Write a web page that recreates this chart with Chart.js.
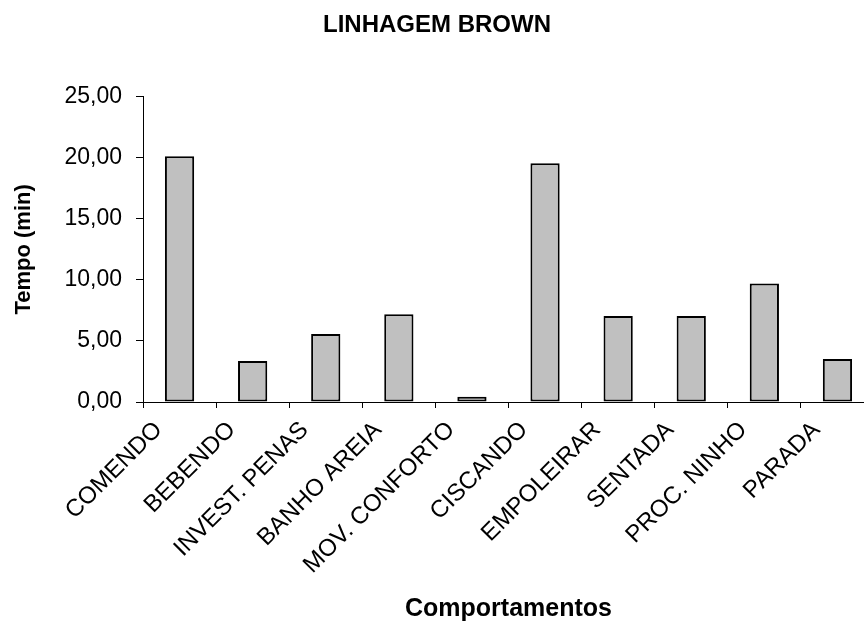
<!DOCTYPE html>
<html>
<head>
<meta charset="utf-8">
<title>Linhagem Brown</title>
<script src="https://cdn.jsdelivr.net/npm/chart.js@4/dist/chart.umd.min.js"></script>
<style>
  html,
  body {
    margin: 0;
    padding: 0;
    background: #fff;
    overflow: hidden;
  }
  .chart-box {
    width: 864px;
    height: 621px;
    overflow: hidden;
  }
</style>
</head>
<body>
<div class="chart-box">
  <canvas id="bar-chart" width="882" height="621"></canvas>
</div>
<script>
// CHART DATA
const comportamentos = [
  "COMENDO",
  "BEBENDO",
  "INVEST. PENAS",
  "BANHO AREIA",
  "MOV. CONFORTO",
  "CISCANDO",
  "EMPOLEIRAR",
  "SENTADA",
  "PROC. NINHO",
  "PARADA",
]
const tempo_min = [20.14, 3.36, 5.57, 7.19, 0.43, 19.56, 7.05, 7.05, 9.7, 3.52]

const y_min = 0
const y_max = 25
const y_step = 5

const FONT = "Arial, 'Liberation Sans', sans-serif"

const ctx = document.getElementById("bar-chart").getContext("2d")

// tick labels use a comma as decimal mark
function formatTick(value) {
  return value.toFixed(2).replace(".", ",")
}

new Chart(ctx, {
  type: "bar",
  data: {
    labels: comportamentos,
    datasets: [
      {
        label: "Tempo (min)",
        data: tempo_min,
        backgroundColor: "#C0C0C0",
        borderColor: "#000",
        borderWidth: 2,
        borderSkipped: false,
        barPercentage: 0.4,
        categoryPercentage: 1,
      },
    ],
  },
  options: {
    responsive: false,
    animation: false,
    devicePixelRatio: 1,
    layout: {
      padding: { left: 0, right: 8, top: 0, bottom: 0 },
    },
    plugins: {
      legend: { display: false },
      tooltip: { enabled: false },
      title: {
        display: true,
        text: "LINHAGEM BROWN",
        color: "#000",
        font: { family: FONT, size: 24, weight: "bold" },
        padding: { top: 11, bottom: 57 },
      },
    },
    scales: {
      x: {
        offset: true,
        border: { display: true, color: "#000", width: 1 },
        grid: {
          display: true,
          offset: true,
          drawOnChartArea: false,
          drawTicks: true,
          tickLength: 6,
          color: "#000",
        },
        ticks: {
          color: "#000",
          font: { family: FONT, size: 24 },
          minRotation: 45,
          maxRotation: 45,
          autoSkip: false,
          padding: 8,
          labelOffset: -21,
        },
        title: {
          display: true,
          text: "Comportamentos",
          color: "#000",
          font: { family: FONT, size: 25, weight: "bold" },
          padding: { top: 0, bottom: -3 },
        },
        afterFit: (scale) => {
          scale.height = 219
        },
      },
      y: {
        min: y_min,
        max: y_max,
        border: { display: true, color: "#000", width: 1 },
        grid: {
          display: true,
          drawOnChartArea: false,
          drawTicks: true,
          tickLength: 7,
          color: "#000",
        },
        ticks: {
          stepSize: y_step,
          color: "#000",
          font: { family: FONT, size: 23 },
          padding: 14,
          callback: (value) => formatTick(value),
        },
        title: {
          display: true,
          text: "Tempo (min)",
          color: "#000",
          font: { family: FONT, size: 22, weight: "bold" },
          padding: { top: 11, bottom: 0 },
        },
        afterFit: (scale) => {
          scale.width = 143
        },
      },
    },
  },
})
</script>
</body>
</html>
